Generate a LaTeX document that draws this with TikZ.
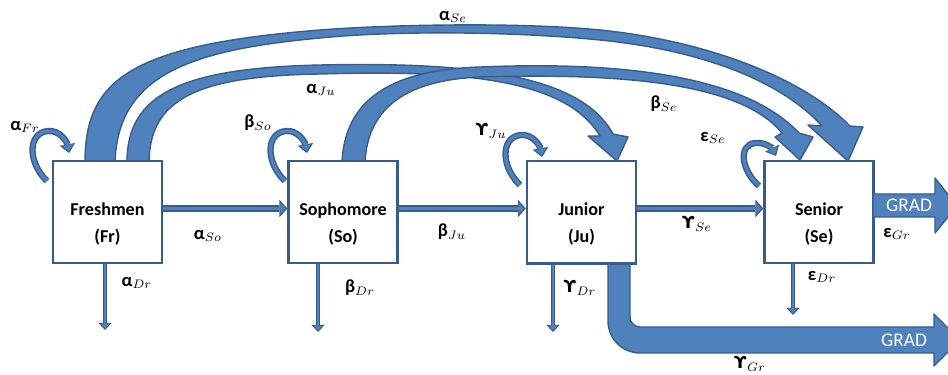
\documentclass[tikz,border=0pt]{standalone}
\usepackage{fontspec}
\setmainfont{Carlito}
\newfontfamily\dejavufam{DejaVu Sans}
\usetikzlibrary{arrows.meta,calc}
\definecolor{bl}{HTML}{4F81BD}
\definecolor{dk}{HTML}{385D8A}
\newcommand\glab[2]{\textbf{#1}$_{#2}$}
\newcommand\upsy{{\dejavufam\fontsize{9.5}{11}\selectfont ϒ}}
\begin{document}
\begin{tikzpicture}[x=0.02cm,y=-0.02cm,
  box/.style={draw=dk,line width=1.3pt,fill=white,minimum width=2.18cm,minimum height=2.04cm,inner sep=0},
  boxtext/.style={font=\fontsize{10.3}{15.5}\selectfont\bfseries,align=center,inner sep=0},
  lab/.style={font=\fontsize{10.5}{12}\selectfont,inner sep=0},
  gradtext/.style={font=\fontsize{11}{13}\selectfont,text=white,inner sep=0},
  blk/.style={fill=bl,draw=dk,line width=0.8pt,line join=round},
  loopo/.style={draw=dk,line width=3.6pt,-{Triangle[length=5pt,width=9pt,line width=0pt]}},
  loopi/.style={draw=bl,line width=1.9pt,shorten >=1.1pt,-{Triangle[length=3.4pt,width=6.2pt,line width=0pt]}},
  tho/.style={draw=dk,line width=4pt,-{Triangle[length=4.5pt,width=10pt,line width=0pt]}},
  thi/.style={draw=bl,line width=2pt,shorten >=1.2pt,-{Triangle[length=2.8pt,width=6.5pt,line width=0pt]}},
  dro/.style={draw=dk,line width=2.8pt,-{Triangle[length=4pt,width=7.5pt,line width=0pt]}},
  dri/.style={draw=bl,line width=1.1pt,shorten >=1pt,-{Triangle[length=2.6pt,width=4.8pt,line width=0pt]}}
]
\useasboundingbox (0,0) rectangle (948,375);
\clip (0,0) rectangle (948,375);

% big curved arrows
\path[blk] (127,162) .. controls (127,95) and (180,68) .. (320,65)
  .. controls (460,62) and (580,72) .. (613,134) -- (628,137) -- (617,161) -- (588,136) -- (600,136)
  .. controls (565,78) and (460,70) .. (320,74)
  .. controls (195,76) and (150,100) .. (149,162) -- cycle;
\path[blk] (342,162) .. controls (345,100) and (390,70) .. (480,67)
  .. controls (600,62) and (740,70) .. (799,133) -- (813,137) -- (800,160) -- (775,137) -- (782,133)
  .. controls (740,82) and (620,73) .. (480,77)
  .. controls (410,80) and (368,105) .. (365,162) -- cycle;
\path[blk] (85,162) .. controls (85,80) and (130,45) .. (320,30)
  .. controls (390,24.5) and (520,22) .. (600,30)
  .. controls (700,40) and (800,75) .. (850,126) -- (863,127) -- (848,161) -- (808,125) -- (822,126)
  .. controls (780,80) and (700,50) .. (600,40)
  .. controls (520,32) and (400,30) .. (320,38)
  .. controls (190,50) and (118,75) .. (115,162) -- cycle;

% boxes
\node[box] (fr) at (107.5,212) {};
\node[box] (so) at (343,212) {};
\node[box] (ju) at (581.5,212) {};
\node[box] (se) at (819,212) {};
\node[boxtext] (frt) at (107.5,224) {Freshmen\\(Fr)};
\node[boxtext] (sot) at (343,224) {Sophomore\\(So)};
\node[boxtext] (jut) at (581.5,224) {Junior\\(Ju)};
\node[boxtext] (set) at (819,224) {Senior\\(Se)};

% self loops
\draw[loopo] (47,181) .. controls (28,163) and (27,133) .. (48,131) .. controls (60,130) and (67,142) .. (69,153);
\draw[loopi] (47,181) .. controls (28,163) and (27,133) .. (48,131) .. controls (60,130) and (67,142) .. (69,153);
\draw[loopo] (285,181) .. controls (266,163) and (265,133) .. (286,131) .. controls (298,130) and (305,142) .. (307,153);
\draw[loopi] (285,181) .. controls (266,163) and (265,133) .. (286,131) .. controls (298,130) and (305,142) .. (307,153);
\draw[loopo] (520,185) .. controls (501,167) and (500,137) .. (521,135) .. controls (533,134) and (540,146) .. (542,157);
\draw[loopi] (520,185) .. controls (501,167) and (500,137) .. (521,135) .. controls (533,134) and (540,146) .. (542,157);
\draw[loopo] (759,186) .. controls (741,170) and (738,145) .. (755,143) .. controls (765,142) and (772,148) .. (776,156);
\draw[loopi] (759,186) .. controls (741,170) and (738,145) .. (755,143) .. controls (765,142) and (772,148) .. (776,156);

% horizontal transitions
\foreach \a/\b in {fr/so,so/ju,ju/se}{
  \draw[tho] ($(\a.east)+(0,-3.5)$) -- ($(\b.west)+(0,-3.5)$);
  \draw[thi] ($(\a.east)+(0,-3.5)$) -- ($(\b.west)+(0,-3.5)$);
}

% dropouts
\coordinate (frd) at (105,330);
\coordinate (sod) at (318,332);
\coordinate (jud) at (553,332);
\coordinate (sed) at (793,315);
\draw[dro] ($(fr.south)+(-2.5,0)$) -- (frd);
\draw[dri] ($(fr.south)+(-2.5,0)$) -- (frd);
\draw[dro] ($(so.south)+(-25,0)$) -- (sod);
\draw[dri] ($(so.south)+(-25,0)$) -- (sod);
\draw[dro] ($(ju.south)+(-28.5,0)$) -- (jud);
\draw[dri] ($(ju.south)+(-28.5,0)$) -- (jud);
\draw[dro] ($(se.south)+(-26,0)$) -- (sed);
\draw[dri] ($(se.south)+(-26,0)$) -- (sed);

% graduation arrows
\path[blk] (873,194) -- (935,194) -- (935,178) -- (957,206) -- (935,233) -- (935,217) -- (873,217) -- cycle;
\path[blk] (608,263) -- (608,321) .. controls (608,338.7) and (622.3,353) .. (640,353) -- (934,353) -- (934,366)
  -- (960,340) -- (934,314) -- (934,327) -- (640,327) .. controls (634.5,327) and (630,322.5) .. (630,317) -- (630,263) -- cycle;
\draw[dk,line width=1.3pt] (ju.south west) -- (ju.south east);
\node[gradtext] (grad1) at (909,205) {GRAD};
\node[gradtext] (grad2) at (904,340) {GRAD};

% labels
\node[lab] (lfr) at (25,127) {\glab{α}{Fr}};
\node[lab] (lju) at (321,90) {\glab{α}{Ju}};
\node[lab] (lse) at (453,17) {\glab{α}{Se}};
\node[lab] (lso) at (258,123) {\glab{β}{So}};
\node[lab] (yju) at (491,131) {\glab{\upsy}{Ju}};
\node[lab] (bse) at (664,104) {\glab{β}{Se}};
\node[lab] (ese) at (713,138) {\glab{ε}{Se}};
\node[lab] (aso) at (208,236) {\glab{α}{So}};
\node[lab] (bju) at (452,232) {\glab{β}{Ju}};
\node[lab] (yse) at (697,224) {\glab{\upsy}{Se}};
\node[lab] (egr) at (897,234) {\glab{ε}{Gr}};
\node[lab] (adr) at (137,283) {\glab{α}{Dr}};
\node[lab] (bdr) at (360,288) {\glab{β}{Dr}};
\node[lab] (ydr) at (580,288) {\glab{\upsy}{Dr}};
\node[lab] (edr) at (822,277) {\glab{ε}{Dr}};
\node[lab] (ygr) at (750,364) {\glab{\upsy}{Gr}};
\end{tikzpicture}
\end{document}
